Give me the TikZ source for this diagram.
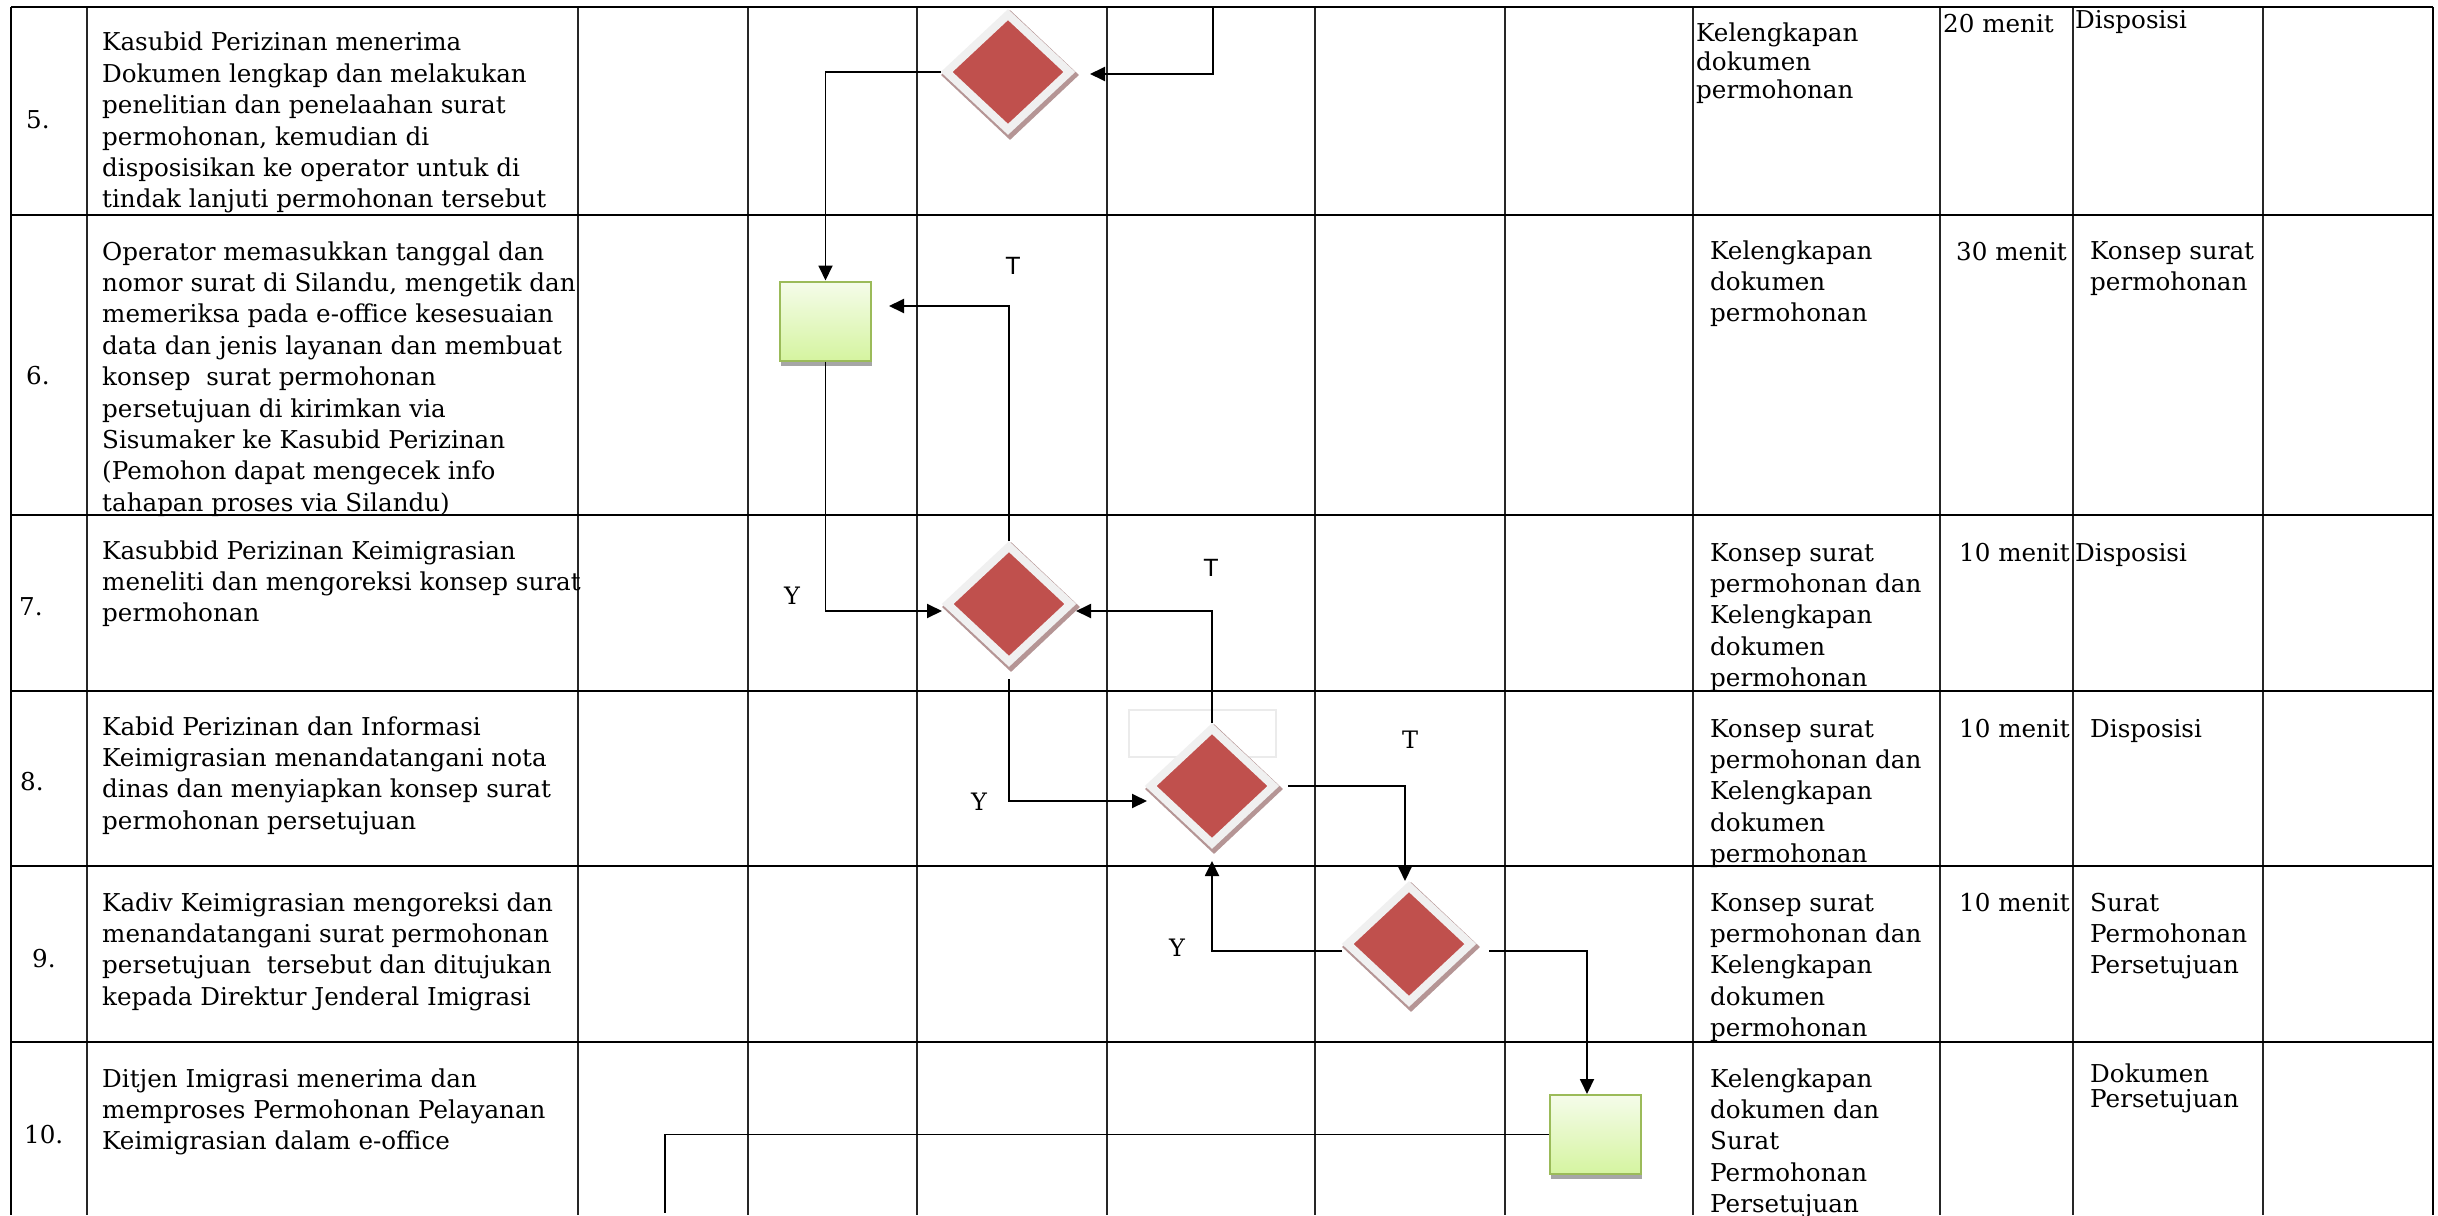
\documentclass[tikz,border=0pt]{standalone}
\usepackage{fontspec}
\setmainfont{DejaVu Serif}
\newfontfamily\tsans{Liberation Sans}
\usetikzlibrary{arrows.meta,shapes.geometric}
\definecolor{decred}{HTML}{C0504D}
\definecolor{decborder}{HTML}{F0F0F0}
\definecolor{decshadow}{HTML}{B59595}
\definecolor{actborder}{HTML}{9BBB59}
\definecolor{acttop}{HTML}{F5FCEA}
\definecolor{actbottom}{HTML}{D5F4A0}
\definecolor{actshadow}{HTML}{A6A6A6}
\newcommand{\mylines}[1]{\begin{tabular}[t]{@{}l@{}}#1\end{tabular}}
\begin{document}
\begin{tikzpicture}[x=1pt,y=-1pt,
  hline/.style={line width=2.6pt},
  vline/.style={line width=1.3pt, black!85},
  bline/.style={line width=2.4pt},
  txt/.style={anchor=base west, inner sep=0pt, font=\fontsize{24.6}{31.4}\selectfont},
  dec/.style={shape=diamond, minimum width=126pt, minimum height=118pt, inner sep=0pt, fill=decred, draw=decborder, line width=8pt},
  decsh/.style={shape=diamond, minimum width=138pt, minimum height=130pt, inner sep=0pt, fill=decshadow},
  act/.style={rectangle, minimum width=91pt, minimum height=79pt, inner sep=0pt, top color=acttop, bottom color=actbottom, draw=actborder, line width=2pt},
  actsh/.style={rectangle, minimum width=91pt, minimum height=79pt, inner sep=0pt, fill=actshadow},
  arr/.style={line width=1.9pt, -{Triangle[length=15pt,width=14pt]}},
  conn/.style={line width=1.9pt},
  lblT/.style={inner sep=0pt, font=\tsans\fontsize{25}{30}\selectfont},
  lblY/.style={inner sep=0pt, font=\fontsize{24}{30}\selectfont},
]
\useasboundingbox (0,0) rectangle (2438,1215);
\fill[white] (0,0) rectangle (2438,1215);

% ---- table grid ----
\foreach \x in {87,578,748,917,1107,1315,1505,1693,1940,2073,2263}
  \draw[vline] (\x,7) -- (\x,1215);
\draw[bline] (11,7) -- (11,1215);
\draw[bline] (2433,7) -- (2433,1215);
\foreach \y in {7,215,515,691,866,1042}
  \draw[hline] (11,\y) -- (2433,\y);

% ---- row texts ----
\node[txt] (n5) at (26,128) {5.};
\node[txt] (k5) at (102,51) {\mylines{Kasubid Perizinan menerima\\Dokumen lengkap dan melakukan\\penelitian dan penelaahan surat\\permohonan, kemudian di\\disposisikan ke operator untuk di\\tindak lanjuti permohonan tersebut}};
\node[txt, font=\fontsize{24.6}{28.5}\selectfont] (m5) at (1696,42) {\mylines{Kelengkapan\\dokumen\\permohonan}};
\node[txt] (w5) at (1943,33) {20 menit};
\node[txt] (o5) at (2075,29) {Disposisi};

\node[txt] (n6) at (26,384) {6.};
\node[txt] (k6) at (102,260) {\mylines{Operator memasukkan tanggal dan\\nomor surat di Silandu, mengetik dan\\memeriksa pada e-office kesesuaian\\data dan jenis layanan dan membuat\\konsep\ \ surat permohonan\\persetujuan di kirimkan via\\Sisumaker ke Kasubid Perizinan\\(Pemohon dapat mengecek info\\tahapan proses via Silandu)}};
\node[txt] (m6) at (1710,259) {\mylines{Kelengkapan\\dokumen\\permohonan}};
\node[txt] (w6) at (1956,260) {30 menit};
\node[txt] (o6) at (2090,259) {\mylines{Konsep surat\\permohonan}};

\node[txt] (n7) at (19,615) {7.};
\node[txt] (k7) at (102,559) {\mylines{Kasubbid Perizinan Keimigrasian\\meneliti dan mengoreksi konsep surat\\permohonan}};
\node[txt] (m7) at (1710,561) {\mylines{Konsep surat\\permohonan dan\\Kelengkapan\\dokumen\\permohonan}};
\node[txt] (w7) at (1959,561) {10 menit};
\node[txt] (o7) at (2075,561) {Disposisi};

\node[txt] (n8) at (20,790) {8.};
\node[txt] (k8) at (102,735) {\mylines{Kabid Perizinan dan Informasi\\Keimigrasian menandatangani nota\\dinas dan menyiapkan konsep surat\\permohonan persetujuan}};
\node[txt] (m8) at (1710,737) {\mylines{Konsep surat\\permohonan dan\\Kelengkapan\\dokumen\\permohonan}};
\node[txt] (w8) at (1959,737) {10 menit};
\node[txt] (o8) at (2090,737) {Disposisi};

\node[txt] (n9) at (32,967) {9.};
\node[txt] (k9) at (102,911) {\mylines{Kadiv Keimigrasian mengoreksi dan\\menandatangani surat permohonan\\persetujuan\ \ tersebut dan ditujukan\\kepada Direktur Jenderal Imigrasi}};
\node[txt] (m9) at (1710,911) {\mylines{Konsep surat\\permohonan dan\\Kelengkapan\\dokumen\\permohonan}};
\node[txt] (w9) at (1959,911) {10 menit};
\node[txt] (o9) at (2090,911) {\mylines{Surat\\Permohonan\\Persetujuan}};

\node[txt] (n10) at (24,1143) {10.};
\node[txt] (k10) at (102,1087) {\mylines{Ditjen Imigrasi menerima dan\\memproses Permohonan Pelayanan\\Keimigrasian dalam e-office}};
\node[txt] (m10) at (1710,1087) {\mylines{Kelengkapan\\dokumen dan\\Surat\\Permohonan\\Persetujuan}};
\node[txt, font=\fontsize{24.6}{24}\selectfont] (o10) at (2090,1082) {\mylines{Dokumen\\Persetujuan}};

% ---- shapes ----
\node[draw=black!8, line width=2pt, minimum width=147pt, minimum height=47pt, inner sep=0pt] (ghost) at (1202.5,733.5) {};

\node[decsh] (d5s) at (1010,75) {};
\node[dec] (d5) at (1008,72) {};
\node[decsh] (d7s) at (1011,607) {};
\node[dec] (d7) at (1009,604) {};
\node[decsh] (d8s) at (1214,789) {};
\node[dec] (d8) at (1212,786) {};
\node[decsh] (d9s) at (1411,947) {};
\node[dec] (d9) at (1409,944) {};

\node[actsh] (b6s) at (826.5,326) {};
\node[act] (b6) at (825.5,321) {};
\node[actsh] (b10s) at (1596,1139.5) {};
\node[act] (b10) at (1595,1134.5) {};

% ---- connectors ----
\coordinate (top5) at (1213,8);
\coordinate (bot10) at (665,1213);
\draw[arr] (top5) |- ([xshift=15pt,yshift=-2pt]d5.east);
\draw[arr] (d5.west) -| (b6.north);
\draw[arr] (d7.north) |- ([xshift=17pt,yshift=15pt]b6.east);
\draw[arr] (b6.south) |- ([yshift=-7pt]d7.west);
\draw[arr] (d8.north) |- ([yshift=-7pt]d7.east);
\draw[arr] ([yshift=-12pt]d7.south) |- ([xshift=2pt,yshift=-15pt]d8.west);
\draw[arr] ([xshift=9pt]d8.east) -| ([xshift=-4pt]d9.north);
\draw[arr, shorten >=12pt] ([yshift=-7pt]d9.west) -| (d8.south);
\draw[arr] ([xshift=13pt,yshift=-7pt]d9.east) -| ([xshift=-8pt]b10.north);
\draw[conn] (b10.west) -| (bot10);

% ---- labels ----
\node[lblT] (t1) at (1013,266) {T};
\node[lblT] (t2) at (1211,568) {T};
\node[lblY] (t3) at (1410,740) {T};
\node[lblY] (y1) at (792,596) {Y};
\node[lblY] (y2) at (979,802) {Y};
\node[lblY] (y3) at (1177,948) {Y};
\end{tikzpicture}
\end{document}
